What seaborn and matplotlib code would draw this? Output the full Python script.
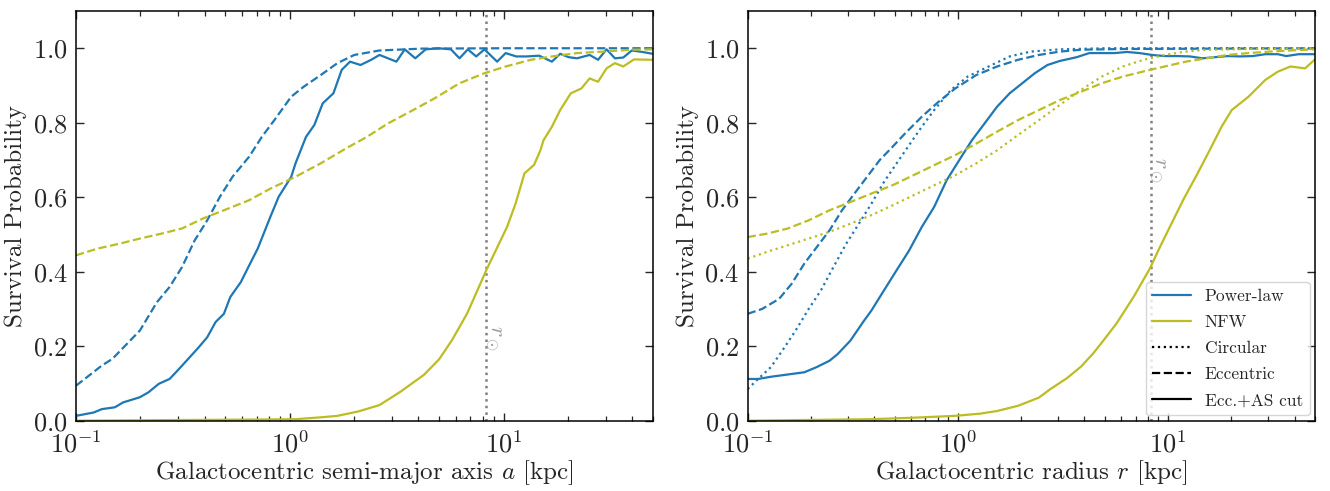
import numpy as np
import pandas as pd
import matplotlib
matplotlib.use("Agg")
import matplotlib.pyplot as plt
import seaborn as sns
from matplotlib.lines import Line2D
from matplotlib.ticker import LogLocator, NullFormatter, MultipleLocator

# ---------------- data ----------------
R_SUN = 8.3

# Left panel: semi-major axis a [kpc]
L_pl_ecc_x = [0.100, 0.118, 0.132, 0.148, 0.199, 0.239, 0.274, 0.313, 0.359, 0.411, 0.471,
              0.540, 0.646, 0.740, 0.847, 1.016, 1.164, 1.396, 1.671, 2.004, 2.630, 4.140, 10.0, 50.0]
L_pl_ecc_y = [0.094, 0.126, 0.148, 0.166, 0.242, 0.318, 0.359, 0.412, 0.484, 0.538, 0.601,
              0.655, 0.709, 0.762, 0.807, 0.870, 0.897, 0.928, 0.960, 0.982, 0.994, 0.999, 1.0, 1.0]

L_pl_cut_x = [0.100, 0.121, 0.132, 0.152, 0.166, 0.199, 0.218, 0.244, 0.274, 0.299, 0.335,
              0.375, 0.411, 0.450, 0.492, 0.527, 0.590, 0.646, 0.708, 0.811, 0.887, 1.016,
              1.064, 1.191, 1.303, 1.426, 1.600, 1.750, 1.914, 2.143, 2.404, 2.630, 3.155,
              3.451, 3.864, 4.325, 4.955, 5.675, 6.223, 6.808, 7.447, 8.147, 9.333, 10.23,
              11.46, 12.82, 14.69, 16.83, 18.41, 20.18, 22.08, 25.29, 27.67, 30.34, 33.19,
              36.31, 39.81, 43.55, 50.0]
L_pl_cut_y = [0.013, 0.022, 0.031, 0.036, 0.049, 0.063, 0.076, 0.099, 0.112, 0.135, 0.166,
              0.197, 0.224, 0.265, 0.287, 0.332, 0.372, 0.417, 0.462, 0.547, 0.601, 0.655,
              0.691, 0.762, 0.794, 0.852, 0.879, 0.942, 0.964, 0.955, 0.969, 0.982, 0.964,
              0.997, 0.973, 0.997, 1.000, 0.997, 0.973, 0.997, 0.978, 0.997, 0.964, 0.987,
              0.978, 0.978, 0.980, 0.964, 0.985, 0.976, 0.973, 0.982, 0.969, 0.997, 0.973,
              0.975, 0.994, 0.991, 0.985]

L_nfw_ecc_x = [0.100, 0.126, 0.159, 0.199, 0.250, 0.313, 0.393, 0.492, 0.646, 0.811, 1.064,
               1.396, 1.832, 2.296, 2.877, 3.776, 4.742, 6.223, 8.147, 10.23, 13.43, 16.83,
               22.08, 28.97, 39.81, 50.0]
L_nfw_ecc_y = [0.444, 0.462, 0.475, 0.489, 0.502, 0.516, 0.543, 0.565, 0.592, 0.623, 0.655,
               0.691, 0.731, 0.762, 0.798, 0.834, 0.865, 0.906, 0.933, 0.951, 0.969, 0.978,
               0.987, 0.991, 0.996, 0.997]

L_nfw_cut_x = [0.100, 0.676, 1.064, 1.396, 1.671, 2.099, 2.630, 3.300, 4.240, 5.000, 5.750,
               6.760, 8.320, 10.40, 11.40, 12.53, 13.90, 14.90, 15.38, 16.83, 18.41, 20.64,
               23.12, 25.29, 27.67, 30.34, 33.19, 36.31, 40.74, 50.0]
L_nfw_cut_y = [0.000, 0.003, 0.004, 0.009, 0.013, 0.025, 0.042, 0.078, 0.123, 0.165, 0.217,
               0.288, 0.405, 0.521, 0.584, 0.664, 0.687, 0.727, 0.753, 0.789, 0.834, 0.879,
               0.892, 0.919, 0.910, 0.946, 0.960, 0.951, 0.970, 0.969]

# Right panel: radius r [kpc]
R_pl_circ_x = [0.100, 0.112, 0.129, 0.148, 0.169, 0.195, 0.223, 0.256, 0.294, 0.338, 0.388,
               0.445, 0.511, 0.586, 0.673, 0.771, 0.927, 1.114, 1.401, 1.763, 2.218, 3.059,
               5.0, 50.0]
R_pl_circ_y = [0.085, 0.112, 0.144, 0.193, 0.242, 0.300, 0.350, 0.413, 0.475, 0.529, 0.583,
               0.641, 0.691, 0.740, 0.789, 0.834, 0.888, 0.924, 0.951, 0.978, 0.991, 0.997,
               1.0, 1.0]

R_pl_ecc_x = [0.100, 0.117, 0.141, 0.162, 0.186, 0.213, 0.245, 0.281, 0.322, 0.370, 0.425,
              0.488, 0.560, 0.673, 0.808, 0.971, 1.222, 1.536, 1.932, 2.430, 3.059, 3.846,
              6.095, 50.0]
R_pl_ecc_y = [0.287, 0.300, 0.327, 0.368, 0.422, 0.466, 0.511, 0.565, 0.610, 0.655, 0.700,
              0.735, 0.771, 0.816, 0.856, 0.892, 0.928, 0.951, 0.969, 0.982, 0.991, 0.996,
              0.998, 1.0]

R_pl_cut_x = [0.100, 0.112, 0.129, 0.155, 0.186, 0.213, 0.245, 0.268, 0.308, 0.354, 0.388,
              0.445, 0.511, 0.586, 0.673, 0.771, 0.885, 1.016, 1.166, 1.339, 1.536, 1.763,
              2.024, 2.323, 2.667, 3.059, 3.675, 4.217, 4.841, 5.559, 6.383, 7.311, 8.395,
              9.638, 11.07, 12.70, 14.58, 16.71, 19.19, 22.03, 25.29, 29.03, 33.27, 36.48,
              41.88, 50.0]
R_pl_cut_y = [0.112, 0.112, 0.118, 0.124, 0.130, 0.144, 0.161, 0.179, 0.215, 0.265, 0.296,
              0.350, 0.404, 0.457, 0.520, 0.574, 0.646, 0.700, 0.753, 0.798, 0.843, 0.879,
              0.906, 0.933, 0.955, 0.966, 0.976, 0.987, 0.987, 0.987, 0.990, 0.987, 0.982,
              0.979, 0.979, 0.978, 0.973, 0.976, 0.979, 0.978, 0.979, 0.984, 0.984, 0.979,
              0.984, 0.984]

R_nfw_circ_x = [0.100, 0.123, 0.155, 0.195, 0.245, 0.308, 0.388, 0.488, 0.614, 0.771, 0.971,
                1.222, 1.536, 1.932, 2.430, 3.059, 3.846, 4.841, 6.095, 7.656, 9.638, 12.13,
                15.24, 24.15, 50.0]
R_nfw_circ_y = [0.435, 0.453, 0.471, 0.489, 0.507, 0.529, 0.552, 0.578, 0.605, 0.632, 0.659,
                0.691, 0.726, 0.767, 0.807, 0.848, 0.888, 0.924, 0.951, 0.969, 0.982, 0.991,
                0.996, 0.998, 1.0]

R_nfw_ecc_x = [0.100, 0.123, 0.155, 0.195, 0.245, 0.308, 0.388, 0.488, 0.614, 0.771, 0.971,
               1.222, 1.536, 1.932, 2.430, 3.059, 3.846, 4.841, 6.095, 8.200, 9.638, 12.13,
               15.24, 19.19, 24.15, 30.41, 38.21, 50.0]
R_nfw_ecc_y = [0.493, 0.502, 0.516, 0.538, 0.565, 0.587, 0.610, 0.632, 0.659, 0.686, 0.713,
               0.744, 0.776, 0.807, 0.834, 0.861, 0.883, 0.906, 0.924, 0.942, 0.951, 0.964,
               0.973, 0.982, 0.987, 0.991, 0.994, 0.997]

R_nfw_cut_x = [0.100, 0.388, 0.614, 0.971, 1.279, 1.536, 1.932, 2.430, 2.740, 3.300, 3.850,
               4.410, 5.000, 5.700, 6.900, 8.200, 9.160, 10.40, 11.81, 13.70, 15.80, 18.00,
               20.09, 24.15, 29.03, 33.27, 38.21, 44.87, 50.0]
R_nfw_cut_y = [0.000, 0.004, 0.008, 0.013, 0.019, 0.026, 0.040, 0.062, 0.084, 0.114, 0.145,
               0.181, 0.220, 0.262, 0.335, 0.409, 0.467, 0.530, 0.593, 0.660, 0.727, 0.790,
               0.834, 0.870, 0.915, 0.937, 0.951, 0.946, 0.970]

XLABELS = ["Galactocentric semi-major axis $a$ [kpc]", "Galactocentric radius $r$ [kpc]"]
YLABEL = "Survival Probability"
LEGEND_LABELS = ["Power-law", "NFW", "Circular", "Eccentric", "Ecc.+AS cut"]

# ---------------- style ----------------
sns.set_style("ticks")
plt.rcParams.update({
    "font.family": "serif",
    "font.serif": ["cmr10", "DejaVu Serif"],
    "mathtext.fontset": "cm",
    "axes.formatter.use_mathtext": True,
    "axes.unicode_minus": True,
    "xtick.direction": "in",
    "ytick.direction": "in",
    "xtick.top": True,
    "ytick.right": True,
    "axes.linewidth": 1.1,
    "axes.edgecolor": "black",
})

BLUE = "#1f77b4"
OLIVE = "#bcbd22"
LW = 1.6

fig = plt.figure(figsize=(13.3, 4.91), dpi=100)
ax1 = fig.add_axes([0.05714, 0.1432, 0.4338, 0.8344])
ax2 = fig.add_axes([0.5622, 0.1432, 0.4265, 0.8344])


def draw(ax, x, y, color, ls):
    df = pd.DataFrame({"x": x, "y": y})
    sns.lineplot(data=df, x="x", y="y", ax=ax, color=color, linestyle=ls, lw=LW,
                 estimator=None, sort=False, legend=False)


draw(ax1, L_pl_ecc_x, L_pl_ecc_y, BLUE, "--")
draw(ax1, L_pl_cut_x, L_pl_cut_y, BLUE, "-")
draw(ax1, L_nfw_ecc_x, L_nfw_ecc_y, OLIVE, "--")
draw(ax1, L_nfw_cut_x, L_nfw_cut_y, OLIVE, "-")

draw(ax2, R_pl_circ_x, R_pl_circ_y, BLUE, ":")
draw(ax2, R_pl_ecc_x, R_pl_ecc_y, BLUE, "--")
draw(ax2, R_pl_cut_x, R_pl_cut_y, BLUE, "-")
draw(ax2, R_nfw_circ_x, R_nfw_circ_y, OLIVE, ":")
draw(ax2, R_nfw_ecc_x, R_nfw_ecc_y, OLIVE, "--")
draw(ax2, R_nfw_cut_x, R_nfw_cut_y, OLIVE, "-")

label_y = [0.222, 0.673]
for ax, xl, ly in zip([ax1, ax2], XLABELS, label_y):
    ax.axvline(R_SUN, color="gray", ls=":", lw=1.8, zorder=1)
    ax.text(R_SUN * 1.07, ly, r"$r_\odot$", rotation=-90, color="#999999",
            fontsize=16, ha="center", va="center")
    ax.set_xscale("log")
    ax.set_xlim(0.1, 50)
    ax.set_ylim(0, 1.1)
    ax.set_xlabel(xl, fontsize=18, labelpad=1)
    ax.set_ylabel(YLABEL, fontsize=18)
    ax.yaxis.set_major_locator(MultipleLocator(0.2))
    ax.xaxis.set_major_locator(LogLocator(base=10, numticks=10))
    ax.xaxis.set_minor_locator(LogLocator(base=10, subs=np.arange(2, 10), numticks=20))
    ax.xaxis.set_minor_formatter(NullFormatter())
    ax.tick_params(which="major", length=6, width=1.0, labelsize=19)
    ax.tick_params(axis="y", which="major", pad=6)
    ax.tick_params(axis="x", which="major", pad=7)
    ax.tick_params(which="minor", length=3.5, width=0.9)
    for s in ax.spines.values():
        s.set_visible(True)
        s.set_linewidth(1.1)

handles = [Line2D([], [], color=BLUE, lw=LW, ls="-"),
           Line2D([], [], color=OLIVE, lw=LW, ls="-"),
           Line2D([], [], color="black", lw=LW, ls=":"),
           Line2D([], [], color="black", lw=LW, ls="--"),
           Line2D([], [], color="black", lw=LW, ls="-")]
ax2.legend(handles, LEGEND_LABELS, loc="lower right", fontsize=12.5,
           borderaxespad=0.3, handlelength=2.2, labelspacing=0.62)

fig.savefig("out.png", dpi=100)
